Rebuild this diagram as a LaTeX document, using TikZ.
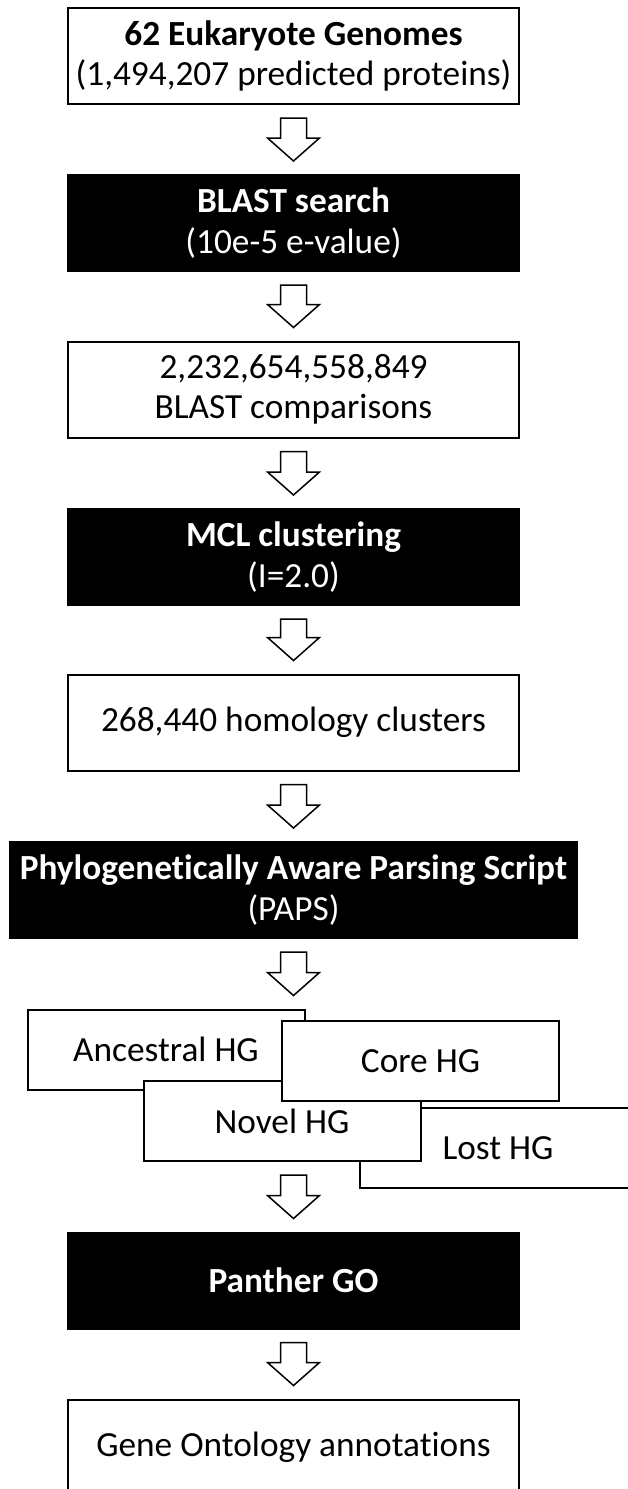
\documentclass[tikz,border=0pt]{standalone}
\usepackage{fontspec}
\setmainfont{Carlito}[Ligatures=NoCommon]
\usetikzlibrary{calc}

\begin{document}
\begin{tikzpicture}[x=1pt,y=-1pt]
  \tikzstyle{step box}=[rectangle,draw=black,line width=2pt,fill=white,minimum width=451pt,minimum height=96pt,inner sep=0pt,align=center,font=\fontsize{35.3}{40.5}\selectfont]
  \tikzstyle{dark box}=[step box,fill=black,draw=black,text=white]
  \tikzstyle{hg box}=[step box,minimum width=277pt,minimum height=80pt]
  \tikzstyle{hollow}=[fill=white,line width=1.5pt,line join=miter,
    to path={let \p1=(\tikztostart), \p2=(\tikztotarget) in
      (\x1-13pt,\y1-13pt) -- (\x1+13pt,\y1-13pt) -- (\x1+13pt,\y2+36pt) -- (\x1+26pt,\y2+36pt)
      -- (\x1,\y2+13pt) -- (\x1-26pt,\y2+36pt) -- (\x1-13pt,\y2+36pt) -- cycle}]
  \path[use as bounding box,fill=white] (0,0) rectangle (627,1489);
  \node[step box] (S_1) at (293.5,56) {\textbf{62 Eukaryote Genomes}\\(1,494,207 predicted proteins)};
  \node[dark box] (S_2) at (293.5,223) {\textbf{BLAST search}\\(10e-5 e-value)};
  \node[step box] (S_3) at (293.5,389.5) {2,232,654,558,849\\BLAST comparisons};
  \node[dark box] (S_4) at (293.5,557) {\textbf{MCL clustering}\\(I=2.0)};
  \node[step box] (S_5) at (293.5,722.5) {268,440 homology clusters};
  \node[dark box,minimum width=567pt] (S_6) at (293.5,890) {\textbf{Phylogenetically Aware Parsing Script}\\(PAPS)};
  \node[hg box] (H_1) at (166,1049.5) {Ancestral HG};
  \node[hg box] (H_4) at (498,1148) {Lost HG};
  \node[hg box] (H_3) at (282,1121) {Novel HG};
  \node[hg box] (H_2) at (420.5,1061) {Core HG};
  \node[dark box] (S_7) at (293.5,1280.5) {\textbf{Panther GO}};
  \node[step box] (S_8) at (293.5,1447.5) {Gene Ontology annotations};
  \draw[hollow] (S_1.south) to (S_2.north);
  \draw[hollow] (S_2.south) to (S_3.north);
  \draw[hollow] (S_3.south) to (S_4.north);
  \draw[hollow] (S_4.south) to (S_5.north);
  \draw[hollow] (S_5.south) to (S_6.north);
  \draw[hollow] (S_6.south) to (H_1.north);
  \draw[hollow] (S_7.north |- H_3.south) to (S_7.north);
  \draw[hollow] (S_7.south) to (S_8.north);
\end{tikzpicture}
\end{document}
